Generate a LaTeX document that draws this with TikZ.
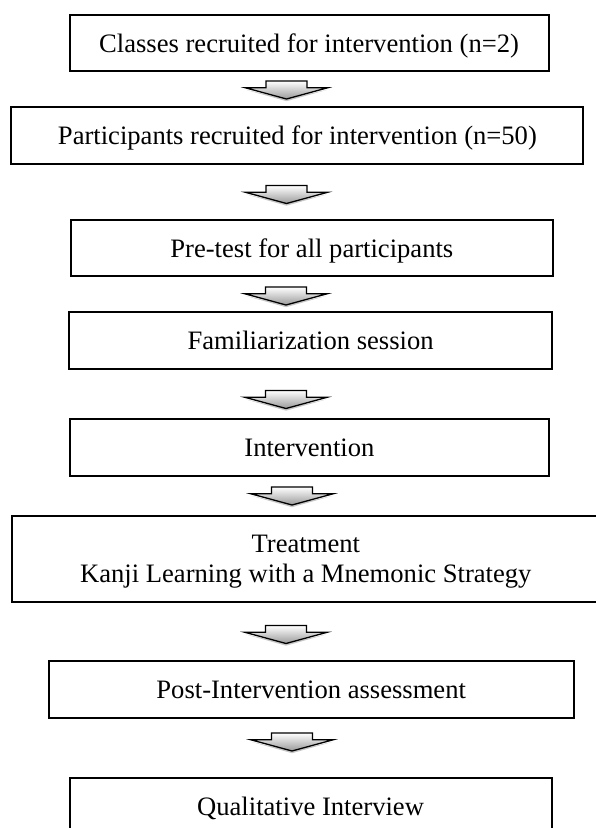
\documentclass[tikz,border=0pt]{standalone}
\usepackage{fontspec}
\setmainfont{Liberation Serif}
\begin{document}
\begin{tikzpicture}[x=1pt,y=-1pt,
  stagebox/.style={draw=black, line width=2pt, inner sep=0pt, align=center,
    font=\fontsize{26.6}{29.5}\selectfont, text height=18.8pt, text depth=0pt},
  blockarrow/.pic={
    \fill[black!40, opacity=0.55] (-40,9) -- (0,20.2) -- (40,9) -- (0,17.8) -- cycle;
    \draw[line width=1.3pt, line join=miter, top color=white, bottom color=black!40]
      (-20.5,0) -- (20.5,0) -- (20.5,6.8) -- (41,6.8) -- (0,18) -- (-41,6.8) -- (-20.5,6.8) -- cycle;
  }]
\useasboundingbox (0,0) rectangle (596,828);

\node[stagebox, minimum width=478.9pt, minimum height=56pt] (b1) at (309.05,43) {Classes recruited for intervention (n=2)};
\node[stagebox, minimum width=572pt, minimum height=57pt] (b2) at (297.4,135.5) {Participants recruited for intervention (n=50)};
\node[stagebox, minimum width=482.3pt, minimum height=56pt] (b3) at (311.85,248) {Pre-test for all participants};
\node[stagebox, minimum width=482.8pt, minimum height=57pt] (b4) at (310.6,340.5) {Familiarization session};
\node[stagebox, minimum width=478.2pt, minimum height=57pt] (b5) at (309.4,447.5) {Intervention};
\node[stagebox, minimum width=588.4pt, minimum height=85.5pt, text height=, text depth=] (b6) at (305.8,558.8) {\rule{0pt}{23.6pt}Treatment\\Kanji Learning with a Mnemonic Strategy};
\node[stagebox, minimum width=525.2pt, minimum height=57pt] (b7) at (311.2,689.5) {Post-Intervention assessment};
\node[stagebox, minimum width=481.9pt, minimum height=57pt] (b8) at (310.55,806) {Qualitative Interview};

\pic (a1) at (286.5,81) {blockarrow};
\pic (a2) at (286.5,185.5) {blockarrow};
\pic (a3) at (286,287) {blockarrow};
\pic (a4) at (286,390.5) {blockarrow};
\pic (a5) at (292,487) {blockarrow};
\pic (a6) at (286,625.5) {blockarrow};
\pic (a7) at (292,733) {blockarrow};
\end{tikzpicture}
\end{document}
